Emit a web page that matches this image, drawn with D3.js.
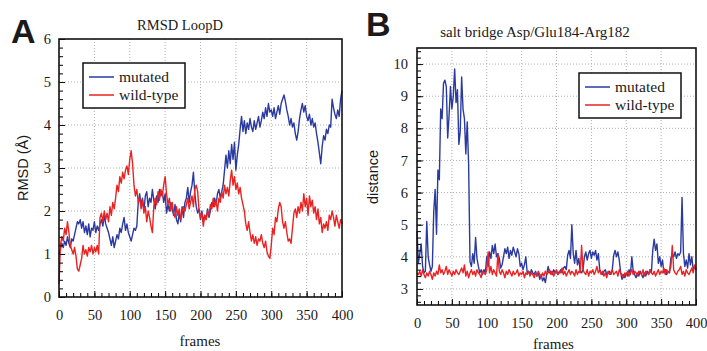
<!DOCTYPE html>
<html>
<head>
<meta charset="utf-8">
<script src="https://cdn.jsdelivr.net/npm/d3@7/dist/d3.min.js"></script>
<style>
  body { margin: 0; background: #fff; }
  text { font-family: "Liberation Serif", "Times New Roman", serif; fill: #1a1a1a; }
  .grid line { stroke: #b0b0b0; stroke-dasharray: 1,2; }
  .domain { display: none; }
</style>
</head>
<body>
<div id="chart"></div>
<script>

// ---------------- data ----------------
var seriesNames = ["mutated", "wild-type"];
var frames = d3.range(0, 401, 2);   // frame index of every sample

// Panel A: RMSD LoopD (Å)
var rmsdMutated = [
  1.0,1.1,1.25,1.15,1.3,1.2,1.4,1.25,1.15,1.35,
  1.3,1.45,1.6,1.75,1.7,1.8,1.6,1.75,1.5,1.65,
  1.45,1.7,1.4,1.6,1.55,1.75,1.5,1.65,1.55,1.7,
  1.8,1.65,1.9,1.7,1.6,1.5,1.35,1.2,1.4,1.15,
  1.3,1.45,1.35,1.6,1.5,1.7,1.85,1.55,1.7,1.5,
  1.4,1.3,1.45,1.6,1.55,1.65,2.2,2.4,2.15,2.3,
  2.0,2.35,2.45,2.1,2.3,2.2,2.5,2.25,2.05,2.35,
  2.2,2.5,2.35,2.45,2.2,2.4,1.95,2.15,2.0,2.2,
  2.05,1.9,2.15,1.8,1.7,1.95,1.75,2.1,1.85,2.2,
  2.3,2.55,2.2,2.45,2.6,2.9,2.4,2.1,1.95,2.05,
  1.8,2.0,1.75,1.9,1.8,2.05,1.85,2.0,2.2,2.1,
  2.3,2.15,2.4,2.5,2.3,2.45,2.6,2.95,3.3,3.0,
  3.4,3.1,3.55,3.2,3.6,2.95,3.3,3.55,3.9,4.2,
  3.85,4.1,3.8,4.05,3.9,4.15,3.95,3.85,4.1,3.9,
  4.05,4.2,3.95,4.1,4.3,4.15,4.4,4.2,4.5,4.3,
  4.35,4.2,4.4,4.15,4.3,4.45,4.25,4.5,4.6,4.7,
  4.55,4.35,4.2,4.0,4.15,3.95,4.05,3.8,3.65,3.85,
  4.15,4.35,4.5,4.3,4.45,4.2,4.1,4.25,4.0,4.15,
  3.95,4.05,3.8,3.6,3.35,3.1,3.5,3.75,3.65,3.9,
  3.8,4.0,3.95,4.6,4.4,4.25,4.15,4.35,4.2,4.6,
  4.8
];
var rmsdWild = [
  0.3,1.2,1.4,1.3,1.6,1.45,1.75,1.5,1.2,1.1,
  1.0,1.15,0.95,0.65,0.6,0.75,0.9,1.2,1.0,1.1,
  0.95,1.15,1.05,1.2,1.0,1.15,1.05,1.2,1.0,1.85,
  1.95,1.75,2.0,1.8,1.95,1.75,2.1,1.9,2.2,2.05,
  2.3,2.6,2.45,2.8,2.65,2.9,2.75,2.95,3.05,2.85,
  3.2,3.4,3.1,2.6,2.35,2.5,2.2,2.3,2.05,2.25,
  1.95,2.1,1.75,2.0,1.85,1.65,1.5,2.1,2.3,2.15,
  2.45,2.25,2.5,2.35,2.6,2.8,2.4,2.15,2.3,2.0,
  2.2,1.95,1.85,2.1,1.9,2.05,1.8,1.95,2.1,2.0,
  2.15,2.3,2.05,2.2,2.35,2.1,2.5,2.6,2.45,2.0,
  1.85,1.95,1.65,1.9,1.8,2.0,1.9,2.15,2.05,2.3,
  2.1,2.25,2.0,2.3,2.2,2.45,2.3,2.6,2.4,2.55,
  2.35,2.7,2.95,2.6,2.8,2.5,2.65,2.4,2.55,2.3,
  2.15,2.0,1.7,1.55,1.75,1.5,1.3,1.45,1.25,1.4,
  1.2,1.35,1.3,1.45,1.25,1.15,1.3,1.05,0.95,0.9,
  1.2,1.6,1.45,1.85,1.75,2.05,2.2,2.1,1.75,1.6,
  1.75,1.5,1.3,1.35,1.25,1.6,1.95,2.05,1.85,2.1,
  1.95,2.2,2.0,2.4,2.1,2.3,1.9,2.35,2.1,2.25,
  1.95,2.1,1.8,2.05,1.7,1.85,1.5,1.7,1.6,1.75,
  1.55,1.9,1.8,2.0,1.85,1.65,1.9,1.75,1.6,1.8,
  1.7
];

// Panel B: salt bridge distance
var saltMutated = [
  4.8,3.8,4.1,4.4,3.7,3.5,3.55,5.1,4.0,3.75,
  3.55,3.7,5.4,6.1,4.7,6.7,6.4,8.6,8.3,9.4,
  9.5,9.3,7.7,8.4,9.3,8.6,9.0,9.85,8.8,9.2,
  7.5,7.9,9.6,8.6,8.3,7.2,8.2,6.9,3.85,3.7,
  4.1,3.8,4.6,3.95,3.7,3.5,3.6,3.45,3.6,3.5,
  4.0,3.7,4.15,3.95,4.35,4.1,4.4,4.0,4.1,3.95,
  3.65,3.75,4.0,4.25,4.1,4.3,3.95,4.2,4.05,4.3,
  4.15,4.0,4.25,4.1,3.7,3.8,3.6,3.75,4.0,3.5,
  3.55,3.45,3.6,3.5,3.45,3.55,3.4,3.5,3.3,3.45,
  3.25,3.35,3.2,3.45,3.7,3.5,3.55,3.45,3.6,3.5,
  3.55,3.45,3.5,3.6,3.5,3.65,3.7,3.6,4.05,4.2,
  3.95,5.0,4.1,3.8,4.2,3.75,3.95,3.55,3.5,3.6,
  4.0,4.15,3.9,4.1,4.2,3.95,4.15,4.05,4.2,3.9,
  4.1,3.6,3.5,3.45,3.55,3.6,3.45,3.5,3.55,3.45,
  3.6,4.05,4.2,4.0,4.15,3.9,3.5,3.3,3.45,3.35,
  3.5,3.4,3.6,3.45,4.0,3.55,3.45,3.35,3.5,3.4,
  3.55,3.45,3.35,3.5,3.4,3.55,3.45,3.6,3.5,4.2,
  4.55,4.2,4.4,3.8,4.0,3.7,3.9,3.5,3.6,3.45,
  3.55,3.5,3.95,4.1,4.0,4.15,3.95,4.1,4.05,4.15,
  5.85,4.1,3.7,3.9,3.65,4.1,3.75,4.0,3.6,3.7,
  3.6
];
var saltWild = [
  3.5,3.45,3.55,3.4,3.6,3.45,3.35,3.5,3.4,3.55,
  3.45,3.3,3.5,3.4,3.55,3.45,3.75,3.5,3.6,3.45,
  3.55,3.7,3.45,3.6,3.5,3.4,3.55,3.45,3.6,3.5,
  3.45,3.55,3.65,3.5,3.75,3.4,3.55,3.35,3.5,3.6,
  3.45,3.55,3.4,3.6,3.5,3.45,3.35,3.55,3.5,3.45,
  3.6,4.15,3.5,3.7,3.45,3.6,3.5,3.4,4.1,3.55,
  3.45,3.6,3.5,3.35,3.55,3.45,3.6,3.5,3.4,3.55,
  3.45,3.5,3.6,3.4,3.5,3.45,3.55,3.35,3.5,3.45,
  3.55,3.4,3.5,3.45,3.35,3.5,3.4,3.55,3.45,3.35,
  3.5,3.4,3.55,3.45,3.5,3.6,3.45,3.55,3.4,3.5,
  3.6,3.45,3.55,3.5,3.65,3.45,3.55,3.4,3.5,3.6,
  3.45,3.55,3.5,3.4,3.6,3.45,3.55,3.5,4.35,3.6,
  3.5,3.45,3.6,3.4,3.55,3.5,3.6,3.45,3.55,3.7,
  3.5,3.6,3.45,3.55,3.4,3.5,3.35,3.55,3.45,3.5,
  3.6,3.45,3.5,3.55,3.4,3.6,3.5,3.45,3.35,3.5,
  3.45,3.55,3.4,3.5,3.6,3.45,3.55,3.5,3.4,3.55,
  3.5,3.45,3.6,3.4,3.55,3.5,3.45,3.6,3.5,3.45,
  3.55,3.4,3.5,3.6,3.45,3.55,3.5,3.65,3.45,3.6,
  3.5,3.55,3.7,4.35,3.6,3.5,3.45,3.55,3.6,3.7,
  3.45,3.55,3.4,3.6,3.5,3.45,3.55,3.65,3.5,3.75,
  3.6
];

var xTicks = [0, 50, 100, 150, 200, 250, 300, 350, 400];
var yTicksA = [0, 1, 2, 3, 4, 5, 6];
var yTicksB = [3, 4, 5, 6, 7, 8, 9, 10];
var colors = ["#2b3aa0", "#ea2222"];

// ---------------- svg ----------------
var svg = d3.select("#chart").append("svg")
  .attr("width", 707)
  .attr("height", 351);

function drawPanel(p) {
  var x = d3.scaleLinear().domain([0, 400]).range([p.left, p.right]);
  var y = d3.scaleLinear().domain(p.yDomain).range([p.bottom, p.top]);
  var g = svg.append("g");

  // dotted grid
  var grid = g.append("g").attr("class", "grid");
  grid.selectAll(".gx").data(xTicks.slice(1, -1)).enter().append("line")
    .attr("x1", x).attr("x2", x).attr("y1", p.top).attr("y2", p.bottom);
  grid.selectAll(".gy").data(p.yTicks.filter(function(d) { return y(d) > p.top + 2; })).enter().append("line")
    .attr("x1", p.left).attr("x2", p.right).attr("y1", y).attr("y2", y);

  // series
  var line = d3.line()
    .x(function(d, i) { return x(frames[i]); })
    .y(function(d) { return y(d); });
  p.series.forEach(function(s, i) {
    g.append("path")
      .datum(s)
      .attr("fill", "none")
      .attr("stroke", colors[i])
      .attr("stroke-width", 1.4)
      .attr("stroke-linejoin", "round")
      .attr("d", line);
  });

  // minor ticks (inside)
  g.append("g").attr("transform", "translate(0," + p.bottom + ")")
    .call(d3.axisBottom(x).tickValues(d3.range(0, 401, 10)).tickSize(-4).tickFormat(""));
  g.append("g").attr("transform", "translate(" + p.left + ",0)")
    .call(d3.axisLeft(y).tickValues(d3.range(Math.ceil(p.yDomain[0] / 0.2) * 0.2, p.yDomain[1], 0.2)).tickSize(-4).tickFormat(""));

  // major ticks + labels
  var ax = g.append("g").attr("transform", "translate(0," + p.bottom + ")")
    .call(d3.axisBottom(x).tickValues(xTicks).tickSize(-6).tickPadding(13).tickFormat(d3.format("d")));
  var ay = g.append("g").attr("transform", "translate(" + p.left + ",0)")
    .call(d3.axisLeft(y).tickValues(p.yTicks).tickSize(-6).tickPadding(p.yPad).tickFormat(d3.format("d")));
  [ax, ay].forEach(function(a) {
    a.attr("font-family", "Liberation Serif").attr("font-size", 14.5);
    a.selectAll("text").attr("fill", "#1a1a1a");
    a.selectAll("line").attr("stroke", "#111");
  });

  // frame
  g.append("rect")
    .attr("x", p.left).attr("y", p.top)
    .attr("width", p.right - p.left).attr("height", p.bottom - p.top)
    .attr("fill", "none").attr("stroke", "#111").attr("stroke-width", 1.6);

  // title, axis titles, panel letter
  g.append("text").attr("x", p.titleX).attr("y", p.titleY)
    .attr("text-anchor", "middle").attr("font-size", p.titleSize + "px").text(p.title);
  g.append("text").attr("x", (p.left + p.right) / 2 + p.xLabDx).attr("y", p.xLabY)
    .attr("text-anchor", "middle").attr("font-size", "15px").text("frames");
  g.append("text")
    .attr("transform", "translate(" + p.yLabX + "," + p.yLabY + ") rotate(-90)")
    .attr("text-anchor", "middle").attr("font-size", "14.5px")
    .style("font-family", "'Liberation Sans', Arial, sans-serif")
    .text(p.yLabel);
  g.append("text").attr("x", p.letterX).attr("y", p.letterY)
    .attr("font-size", "34px").attr("font-weight", "bold").attr("fill", "#000")
    .style("font-family", "'Liberation Sans', Arial, sans-serif")
    .text(p.letter);

  // legend
  var lg = g.append("g").attr("transform", "translate(" + p.legX + "," + p.legY + ")");
  lg.append("rect").attr("width", 102).attr("height", 45)
    .attr("fill", "#fff").attr("stroke", "#111").attr("stroke-width", 1.5);
  seriesNames.forEach(function(name, i) {
    lg.append("line").attr("x1", 6).attr("x2", 31)
      .attr("y1", 14 + i * 18).attr("y2", 14 + i * 18)
      .attr("stroke", colors[i]).attr("stroke-width", 1.5);
    lg.append("text").attr("x", 36).attr("y", 19 + i * 18)
      .attr("font-size", "15.5px").text(name);
  });
}

drawPanel({
  left: 59, right: 342, top: 39, bottom: 297,
  yDomain: [0, 6], yTicks: yTicksA, yPad: 8,
  series: [rmsdMutated, rmsdWild],
  title: "RMSD LoopD", titleX: 180, titleY: 30, titleSize: 14.5,
  xLabY: 346, xLabDx: -0.5,
  yLabel: "RMSD (\u00C5)", yLabX: 28, yLabY: 168,
  letter: "A", letterX: 11, letterY: 43,
  legX: 83, legY: 63
});

drawPanel({
  left: 417, right: 696, top: 48, bottom: 305,
  yDomain: [2.5, 10.5], yTicks: yTicksB, yPad: 9,
  series: [saltMutated, saltWild],
  title: "salt bridge Asp/Glu184-Arg182", titleX: 535, titleY: 37, titleSize: 15,
  xLabY: 349, xLabDx: -3,
  yLabel: "distance", yLabX: 378, yLabY: 177,
  letter: "B", letterX: 366, letterY: 36,
  legX: 579, legY: 73
});
</script>
</body>
</html>
